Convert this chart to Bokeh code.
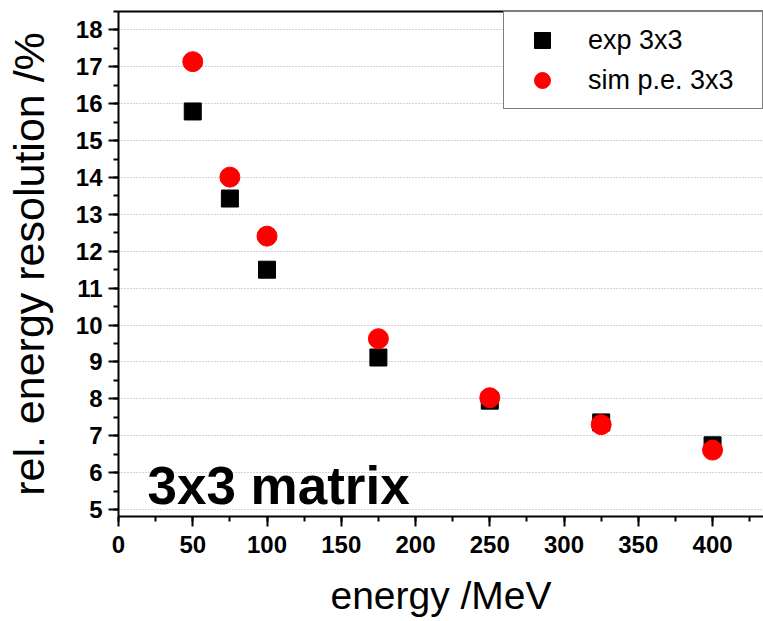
from bokeh.plotting import figure
from bokeh.models import (SingleIntervalTicker, FixedTicker, LinearAxis, Legend, LegendItem,
                          Label, Range1d, ColumnDataSource)
from bokeh.embed import file_html
from bokeh.resources import INLINE

# data
energy = [50, 75, 100, 175, 250, 325, 400]
exp_3x3 = [15.79, 13.43, 11.50, 9.12, 7.95, 7.36, 6.74]
sim_pe_3x3 = [17.14, 14.01, 12.41, 9.63, 8.03, 7.30, 6.61]

FONT = "Liberation Sans"

p = figure(width=763, height=621, output_backend="svg", toolbar_location=None,
           x_range=Range1d(0, 434.3), y_range=Range1d(4.81, 18.5),
           min_border_left=118, min_border_right=0, min_border_top=11, min_border_bottom=105)
p.outline_line_color = None
p.background_fill_color = "white"
p.border_fill_color = "white"

src_exp = ColumnDataSource(dict(x=energy, y=exp_3x3))
src_sim = ColumnDataSource(dict(x=energy, y=sim_pe_3x3))
r_exp = p.scatter("x", "y", source=src_exp, marker="square", size=17,
                  fill_color="black", line_color="black")
r_sim = p.scatter("x", "y", source=src_sim, marker="circle", size=20,
                  fill_color="#ff0000", line_color="#ff0000")

# axes
xa = p.xaxis[0]
xa.ticker = SingleIntervalTicker(interval=50, num_minor_ticks=2)
ya = p.yaxis[0]
ya.ticker = SingleIntervalTicker(interval=1, num_minor_ticks=2)
for ax in (xa, ya):
    ax.axis_line_width = 2
    ax.axis_line_color = "black"
    ax.major_tick_in = 0
    ax.major_tick_out = 10
    ax.minor_tick_in = 0
    ax.minor_tick_out = 5
    ax.major_tick_line_width = 2
    ax.minor_tick_line_width = 2
    ax.major_label_text_font = FONT
    ax.major_label_text_font_style = "bold"
    ax.major_label_text_font_size = "24px"
    ax.major_label_text_color = "black"
    ax.axis_label_text_font = FONT
    ax.axis_label_text_font_style = "normal"
    ax.axis_label_text_color = "black"
xa.axis_label = "energy /MeV"
xa.axis_label_text_font_size = "39px"
xa.major_label_standoff = 9
xa.axis_label_standoff = 18
ya.axis_label = "rel. energy resolution /%"
ya.axis_label_text_font_size = "43px"
ya.major_label_standoff = 6
ya.axis_label_standoff = 20

top = LinearAxis(ticker=FixedTicker(ticks=[]), axis_line_width=2, axis_line_color="black",
                 major_label_text_font_size="0px", major_tick_out=0, minor_tick_out=0,
                 major_label_standoff=0)
p.add_layout(top, "above")

p.xgrid.grid_line_color = None
p.ygrid.grid_line_color = "#a8a8a8"
p.ygrid.grid_line_dash = "1 2"
p.ygrid.grid_line_width = 1

legend = Legend(items=[LegendItem(label="exp 3x3", renderers=[r_exp]),
                       LegendItem(label="sim p.e. 3x3", renderers=[r_sim])],
                location="top_right", margin=0, padding=8, spacing=0,
                glyph_width=60, glyph_height=40, label_standoff=16, label_width=166,
                label_text_font=FONT, label_text_font_size="27px", label_text_color="black",
                border_line_color="black", border_line_width=1.5,
                background_fill_color="white", background_fill_alpha=1.0)
p.add_layout(legend)

p.add_layout(Label(x=19.5, y=5.65, text="3x3 matrix", text_font=FONT, text_font_style="bold",
                   text_font_size="53px", text_color="black", text_baseline="alphabetic"))

open("out.html", "w").write(file_html(p, INLINE))
